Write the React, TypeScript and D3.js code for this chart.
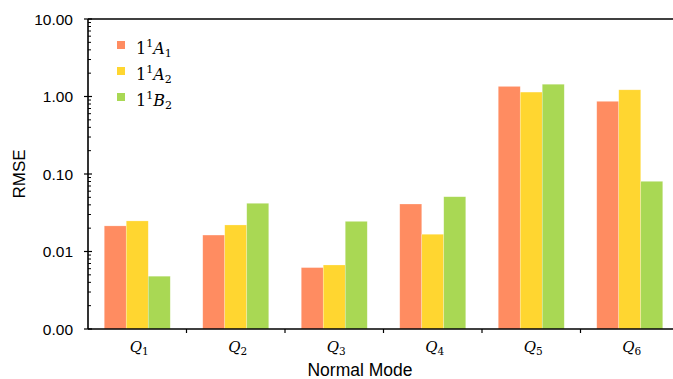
import { useRef, useEffect } from 'react';
import * as d3 from 'd3';

const MODES = ['1', '2', '3', '4', '5', '6'];
const SERIES = [
  { key: 'A1', base: 'A', sub: '1' },
  { key: 'A2', base: 'A', sub: '2' },
  { key: 'B2', base: 'B', sub: '2' },
];
const A1 = [0.0214, 0.0163, 0.0062, 0.041, 1.35, 0.867];
const A2 = [0.0248, 0.022, 0.0067, 0.0167, 1.14, 1.22];
const B2 = [0.0048, 0.0419, 0.0245, 0.0509, 1.44, 0.0805];
const VALUES = [A1, A2, B2];
const Y_TICKS = [0.001, 0.01, 0.1, 1, 10];

const COLORS = ['#FF8C61', '#FFD630', '#A9D854'];

const W = 673;
const H = 379;

export default function App() {
  const svgRef = useRef<SVGSVGElement>(null);

  useEffect(() => {
    const margin = { top: 19, left: 88 };
    const plotRight = 679; // right frame falls just outside the picture
    const plotBottom = 329;

    const svg = d3.select(svgRef.current);
    svg.selectAll('*').remove();

    const y = d3.scaleLog().domain([0.001, 10]).range([plotBottom, margin.top]);
    const x = d3.scaleBand().domain(MODES).range([margin.left, plotRight]);
    const inner = d3
      .scaleBand()
      .domain(SERIES.map((s) => s.key))
      .range([0, 66]);

    // bars
    SERIES.forEach((s, si) => {
      svg
        .append('g')
        .selectAll('rect')
        .data(VALUES[si])
        .join('rect')
        .attr('x', (_, i) => x(MODES[i])! + (x.bandwidth() - 66) / 2 + inner(s.key)!)
        .attr('y', (d) => y(d))
        .attr('width', inner.bandwidth())
        .attr('height', (d) => y(0.001) - y(d))
        .attr('fill', COLORS[si])
        .attr('stroke', '#fff')
        .attr('stroke-opacity', 0.4)
        .attr('stroke-width', 0.6);
    });

    // frame
    const frame = svg.append('g').attr('stroke', '#000').attr('stroke-width', 1.6);
    frame.append('line').attr('x1', margin.left).attr('x2', plotRight).attr('y1', y(10)).attr('y2', y(10));
    frame.append('line').attr('x1', margin.left).attr('x2', plotRight).attr('y1', y(0.001)).attr('y2', y(0.001));
    frame.append('line').attr('x1', margin.left).attr('x2', margin.left).attr('y1', y(10)).attr('y2', y(0.001));

    // y ticks
    const majors = svg.append('g').attr('stroke', '#000').attr('stroke-width', 1.2);
    Y_TICKS.forEach((t) => {
      majors.append('line').attr('x1', margin.left - 4).attr('x2', margin.left + 4).attr('y1', y(t)).attr('y2', y(t));
    });
    const minor = y.ticks().filter((t) => !Y_TICKS.includes(t));
    svg
      .append('g')
      .attr('stroke', '#000')
      .attr('stroke-width', 1)
      .selectAll('line')
      .data(minor)
      .join('line')
      .attr('x1', margin.left)
      .attr('x2', margin.left + 3)
      .attr('y1', (d) => y(d))
      .attr('y2', (d) => y(d));

    svg
      .append('g')
      .selectAll('text')
      .data(Y_TICKS)
      .join('text')
      .attr('x', margin.left - 15)
      .attr('y', (d) => y(d))
      .attr('dy', '0.36em')
      .attr('text-anchor', 'end')
      .attr('font-family', 'Liberation Sans, Arial, sans-serif')
      .attr('font-size', 15.5)
      .attr('fill', '#000')
      .text((d) => d3.format('.2f')(d));

    // x ticks at category boundaries
    svg
      .append('g')
      .attr('stroke', '#000')
      .attr('stroke-width', 1.2)
      .selectAll('line')
      .data(MODES.slice(1))
      .join('line')
      .attr('x1', (d) => x(d)!)
      .attr('x2', (d) => x(d)!)
      .attr('y1', y(0.001))
      .attr('y2', y(0.001) + 4);

    const xl = svg
      .append('g')
      .selectAll('text')
      .data(MODES)
      .join('text')
      .attr('x', (d) => x(d)! + x.bandwidth() / 2 + 2)
      .attr('y', 352)
      .attr('text-anchor', 'middle')
      .attr('font-family', 'DejaVu Serif, serif')
      .attr('font-size', 15)
      .attr('fill', '#000');
    xl.append('tspan').attr('font-style', 'italic').text('Q');
    xl.append('tspan').attr('font-size', 10.5).attr('dy', 3).text((d) => d);

    // axis titles
    svg
      .append('text')
      .attr('x', 360)
      .attr('y', 375.5)
      .attr('text-anchor', 'middle')
      .attr('font-family', 'Liberation Sans, Arial, sans-serif')
      .attr('font-size', 17.5)
      .attr('fill', '#000')
      .text('Normal Mode');

    svg
      .append('text')
      .attr('transform', `translate(25,${(y(10) + y(0.001)) / 2}) rotate(-90)`)
      .attr('text-anchor', 'middle')
      .attr('font-family', 'Liberation Sans, Arial, sans-serif')
      .attr('font-size', 17)
      .attr('fill', '#000')
      .text('RMSE');

    // legend
    const lg = svg
      .append('g')
      .selectAll('g')
      .data(SERIES)
      .join('g')
      .attr('transform', (_, i) => `translate(117,${45 + i * 26})`);
    lg.append('rect').attr('x', 0).attr('y', -4).attr('width', 8).attr('height', 8).attr('fill', (_, i) => COLORS[i]);
    const lt = lg
      .append('text')
      .attr('x', 19)
      .attr('y', 9)
      .attr('font-family', 'DejaVu Serif, serif')
      .attr('font-size', 16)
      .attr('fill', '#000');
    lt.append('tspan').text('1');
    lt.append('tspan').attr('font-size', 11).attr('dy', -7).text('1');
    lt.append('tspan').attr('font-style', 'italic').attr('dy', 7).text((d) => d.base);
    lt.append('tspan').attr('font-size', 11).attr('dy', 3).text((d) => d.sub);
  }, []);

  return (
    <svg
      ref={svgRef}
      width={W}
      height={H}
      style={{ position: 'absolute', left: 0, top: 0, background: '#fff' }}
    />
  );
}
